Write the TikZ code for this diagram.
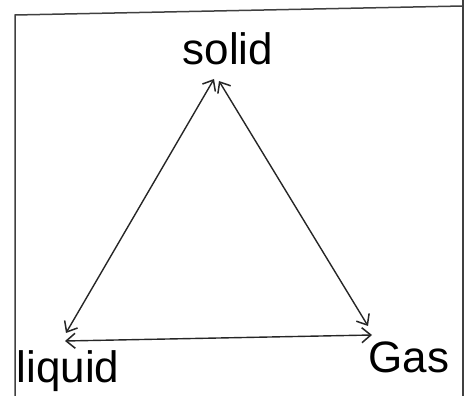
\documentclass[tikz,border=0pt]{standalone}
\usepackage{fontspec}
\setmainfont{Liberation Sans}
\usetikzlibrary{arrows.meta}
\begin{document}
\begin{tikzpicture}[x=1pt,y=-1pt,
  lbl/.style={font=\fontsize{44}{48}\selectfont, inner sep=0pt, anchor=base},
  conn/.style={line width=1.4pt, draw=black!85, {Straight Barb[length=9pt,width=15pt,line width=1.5pt]}-{Straight Barb[length=9pt,width=15pt,line width=1.5pt]}},
  frame/.style={line width=1.5pt, draw=black!75}]
\useasboundingbox (0,0) rectangle (467,396);
% frame
\coordinate (fl) at (15,396);
\coordinate (ftl) at (15,15);
\coordinate (ftr) at (463,6);
\coordinate (fr) at (463,0);
\coordinate (fb) at (463,396);
\draw[frame] (fl) -- (ftl) -- (ftr);
\draw[frame] (fr) -- (fb);
% labels
\node[lbl] (solid) at (228,65) {solid};
\node[lbl] (liquid) at (68,382) {liquid};
\node[lbl] (gas) at (409,373) {Gas};
% arrow ends
\coordinate (sL) at (214,79);
\coordinate (sG) at (219,81);
\coordinate (lS) at (66,333);
\coordinate (lG) at (65,341);
\coordinate (gS) at (368,326);
\coordinate (gL) at (372,335);
\draw[conn] (sL) -- (lS);
\draw[conn] (sG) -- (gS);
\draw[conn] (lG) -- (gL);
\end{tikzpicture}
\end{document}
